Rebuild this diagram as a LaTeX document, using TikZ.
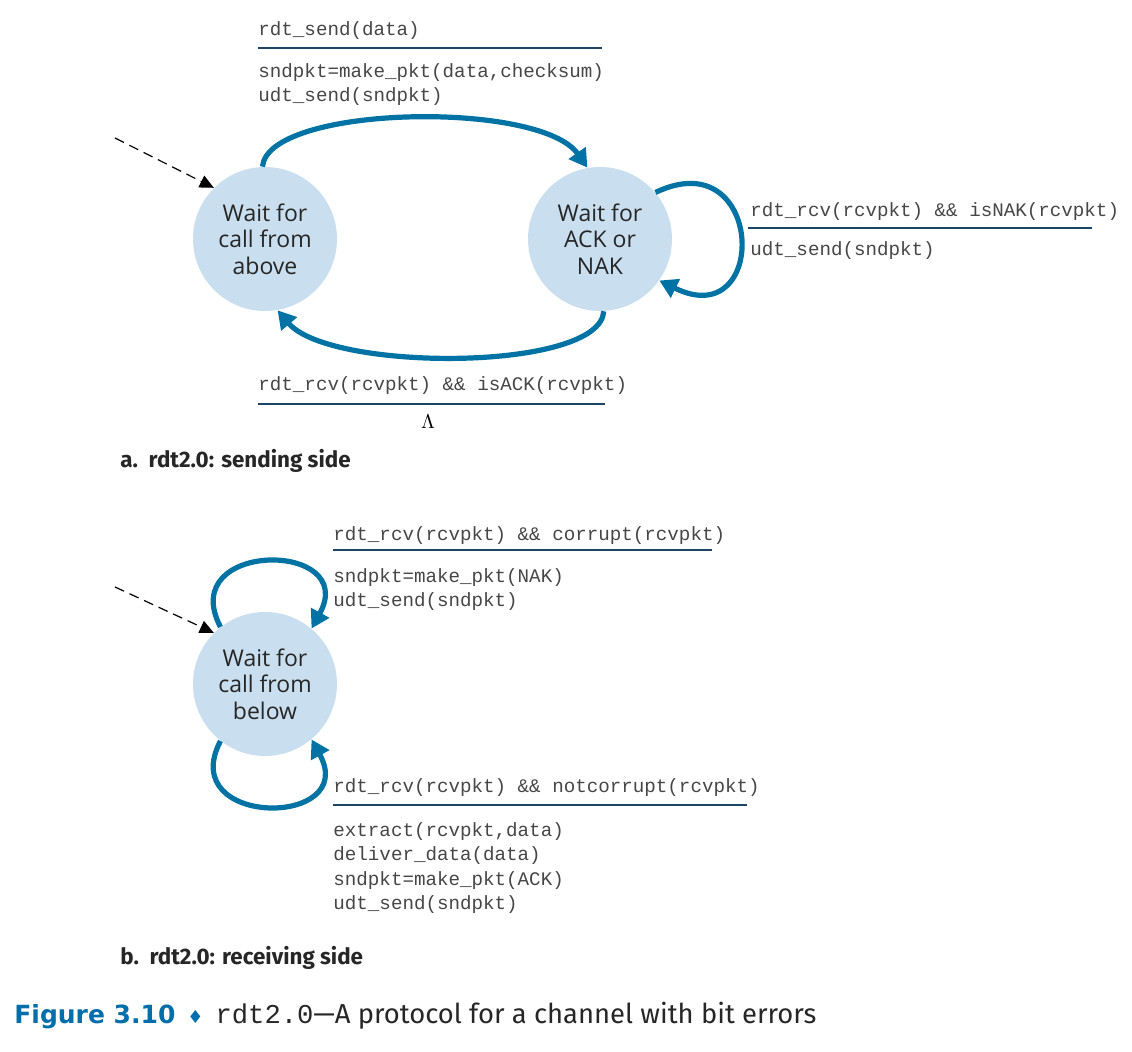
\documentclass[tikz,border=0pt]{standalone}
\usepackage{fontspec}
\setmainfont{Open Sans}
\setmonofont{Liberation Mono}
\newfontfamily\headfont{Fira Sans}
\newfontfamily\symfont{DejaVu Sans}
\usetikzlibrary{arrows.meta}
\definecolor{stfill}{RGB}{201,222,238}
\definecolor{arrowblue}{RGB}{0,114,163}
\definecolor{rulecol}{RGB}{30,70,100}
\definecolor{codegray}{RGB}{70,70,70}
\definecolor{capblue}{RGB}{0,110,170}
\newcommand{\codefont}{\ttfamily\fontsize{9.6}{12.3}\selectfont}

\begin{document}
\begin{tikzpicture}[x=0.5pt,y=-0.5pt,
  state/.style={circle,fill=stfill,minimum size=72pt,inner sep=0pt,align=center,
    font=\fontsize{11.5}{13.25}\selectfont,text=black!85},
  trans/.style={draw=arrowblue,line width=2.6pt,-{Triangle[length=9pt,width=10pt]}},
  init/.style={draw=black,dash pattern=on 5pt off 3pt,line width=0.6pt,-{Triangle[length=7pt,width=6.5pt]}},
  code/.style={anchor=base west,inner sep=0pt,align=left,font=\codefont,text=codegray},
  rule/.style={draw=rulecol,line width=0.8pt},
  part/.style={anchor=base west,inner sep=0pt,font=\headfont\bfseries\fontsize{11.2}{13}\selectfont,text=black!85}]
\useasboundingbox (0,0) rectangle (1132,1052);

% sending side
\node[state](above) at (265,239){Wait for\\call from\\above};
\node[state](ack) at (600,239){Wait for\\ACK or\\NAK};
\coordinate (start1) at (115,138);
\path[init] (start1) -- (above.135);
\path[trans] (above.92) .. controls (268,105) and (540,100) .. (ack.100);
\path[trans] (ack.-87) .. controls (600,372) and (330,372) .. (above.-80);
\path[trans] (ack.40) .. controls (765,140) and (770,335) .. (ack.-35);

% multi-line nodes: base is the last line
\node[code](send) at (258,36){rdt\_send(data)};
\draw[rule] (258,48) -- (602,48);
\node[code](sendact) at (258,102){sndpkt=make\_pkt(data,checksum)\\udt\_send(sndpkt)};
\node[code](nak) at (750,217){rdt\_rcv(rcvpkt) \&\& isNAK(rcvpkt)};
\draw[rule] (748,228) -- (1092,228);
\node[code](nakact) at (750,256){udt\_send(sndpkt)};
\node[code](isack) at (258,391){rdt\_rcv(rcvpkt) \&\& isACK(rcvpkt)};
\draw[rule] (258,404) -- (605,404);
\node[anchor=base,inner sep=0pt](lambda) at (428,429){$\Lambda$};
\node[part](parta) at (120,468){a.\ \ rdt2.0: sending side};

% receiving side
\node[state](below) at (265,684){Wait for\\call from\\below};
\coordinate (start2) at (115,587);
\path[init] (start2) -- (below.135);
\path[trans] (below.128) .. controls (175,540) and (360,540) .. (below.50);
\path[trans] (below.-128) .. controls (175,828) and (360,828) .. (below.-50);

\node[code](corrupt) at (333,541){rdt\_rcv(rcvpkt) \&\& corrupt(rcvpkt)};
\draw[rule] (333,550) -- (712,550);
\node[code](corruptact) at (333,607){sndpkt=make\_pkt(NAK)\\udt\_send(sndpkt)};
\node[code](notcorrupt) at (333,793){rdt\_rcv(rcvpkt) \&\& notcorrupt(rcvpkt)};
\draw[rule] (333,805) -- (747,805);
\node[code](notcorruptact) at (333,910){extract(rcvpkt,data)\\deliver\_data(data)\\sndpkt=make\_pkt(ACK)\\udt\_send(sndpkt)};
\node[part](partb) at (120,965){b.\ \ rdt2.0: receiving side};

% caption
\node[anchor=base west,inner sep=0pt,font=\headfont\fontsize{13.7}{16}\selectfont,text=black!85](caption) at (14,1024)
  {{\symfont\bfseries\color{capblue}\fontsize{12.5}{16}\selectfont Figure 3.10}\hspace{6pt}{\symfont\color{capblue}\fontsize{9}{10}\selectfont ♦}\hspace{6pt}{\ttfamily\fontsize{13.6}{16}\selectfont rdt2.0}—A protocol for a channel with bit errors};
\end{tikzpicture}
\end{document}
